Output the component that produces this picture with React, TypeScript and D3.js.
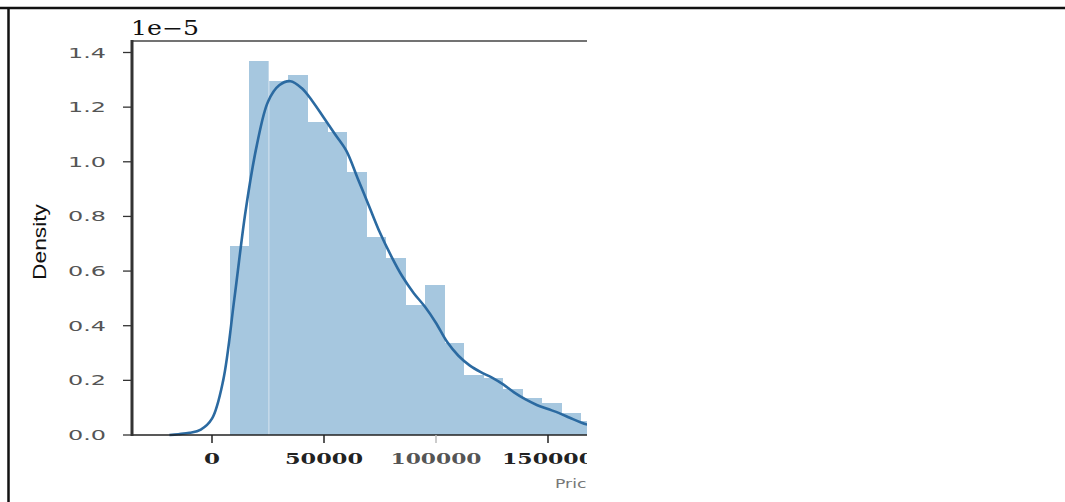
import React from 'react';
import * as d3 from 'd3';

// histogram (density in units of 1e-5)
const binStart = 8000;
const binWidth = 8700;
const binHeights = [0.69, 1.37, 1.295, 1.318, 1.146, 1.11, 0.963, 0.725, 0.648, 0.476, 0.549, 0.337, 0.22, 0.21, 0.17, 0.135, 0.117, 0.08, 0.05];

// kde curve
const kdeX = [-19000, -15000, -10000, -5000, 0, 5000, 10000, 15000, 20000, 25000, 30000, 35000, 40000, 45000, 50000, 55000, 60000, 65000, 70000, 75000, 80000, 85000, 90000, 95000, 100000, 105000, 110000, 115000, 120000, 125000, 130000, 135000, 140000, 145000, 150000, 155000, 160000, 165000, 170000];
const kdeY = [0.0, 0.003, 0.008, 0.02, 0.06, 0.2, 0.5, 0.82, 1.06, 1.22, 1.28, 1.295, 1.27, 1.22, 1.16, 1.1, 1.04, 0.94, 0.84, 0.74, 0.655, 0.58, 0.52, 0.47, 0.41, 0.34, 0.29, 0.255, 0.23, 0.21, 0.185, 0.155, 0.13, 0.11, 0.095, 0.08, 0.062, 0.045, 0.032];

const yTicks = [0, 0.2, 0.4, 0.6, 0.8, 1.0, 1.2, 1.4];
const xTicks = [0, 50000, 100000, 150000];
const xTickWidths = [16, 78, 91, 92];

const App = () => {
  // scales: pixel positions of the original axes
  const x = d3.scaleLinear().domain([0, 150000]).range([212, 548]);
  const y = d3.scaleLinear().domain([0, 1.4]).range([435, 52.5]);

  const left = 132, right = 587, top = 41, bottom = 435;

  const line = d3.line<number>()
    .x((_, i) => x(kdeX[i]))
    .y(d => y(d))
    .curve(d3.curveCatmullRom);

  return (
    <svg width={1065} height={502} style={{ position: 'absolute', left: 0, top: 0 }}>
      <defs>
        <clipPath id="cut">
          <rect x={0} y={0} width={right} height={502} />
        </clipPath>
      </defs>
      <rect x={0} y={0} width={1065} height={502} fill="#fff" />
      {/* outer frame */}
      <line x1={0} x2={1065} y1={8} y2={8} stroke="#111" strokeWidth={2.5} />
      <line x1={8.5} x2={8.5} y1={8} y2={502} stroke="#111" strokeWidth={2.5} />

      <g clipPath="url(#cut)">
        {binHeights.map((h, i) => {
          const x0 = x(binStart + i * binWidth);
          const x1 = x(binStart + (i + 1) * binWidth);
          return <rect key={i} x={x0} y={y(h)} width={x1 - x0 + 0.6} height={y(0) - y(h)} fill="#a6c7df" shapeRendering="crispEdges" />;
        })}
        <line x1={x(binStart + binWidth * 2)} x2={x(binStart + binWidth * 2)} y1={top} y2={bottom} stroke="#fff" strokeWidth={0.8} opacity={0.7} />
        <path d={line(kdeY) ?? ''} fill="none" stroke="#2b6aa1" strokeWidth={2.6} />

        {/* spines */}
        <line x1={left} x2={right} y1={top} y2={top} stroke="#444" strokeWidth={1.5} />
        <line x1={left} x2={right} y1={bottom} y2={bottom} stroke="#222" strokeWidth={1.5} />
        <line x1={left} x2={left} y1={top - 1} y2={bottom + 1} stroke="#333" strokeWidth={3} />

        {yTicks.map(t => (
          <g key={t}>
            <line x1={123} x2={left} y1={y(t)} y2={y(t)} stroke="#333" strokeWidth={1.3} />
            <text x={106} y={y(t)} dominantBaseline="central" textAnchor="end" fontFamily="DejaVu Sans" fontSize={14} fill="#555" textLength={38} lengthAdjust="spacingAndGlyphs">{t.toFixed(1)}</text>
          </g>
        ))}
        {xTicks.map((t, i) => (
          <g key={t}>
            <line x1={x(t)} x2={x(t)} y1={bottom} y2={bottom + 8} stroke={t === 100000 ? '#bbb' : '#222'} strokeWidth={1.5} />
            <text x={x(t)} y={464} textAnchor="middle" fontFamily="DejaVu Serif" fontWeight="bold" fontSize={15} fill={t === 100000 ? '#555' : '#222'} textLength={xTickWidths[i]} lengthAdjust="spacingAndGlyphs">{t}</text>
          </g>
        ))}
        <text x={555} y={488} fontFamily="DejaVu Sans" fontSize={12} fill="#777" textLength={42} lengthAdjust="spacingAndGlyphs">Price</text>
      </g>

      <text x={131} y={35} fontFamily="DejaVu Serif" fontSize={20} fill="#111" textLength={68} lengthAdjust="spacingAndGlyphs">1e−5</text>
      <text transform={`translate(46,242) rotate(-90)`} textAnchor="middle" fontFamily="Liberation Sans" fontSize={18} fill="#111" textLength={76} lengthAdjust="spacingAndGlyphs">Density</text>
    </svg>
  );
};

export default App;
